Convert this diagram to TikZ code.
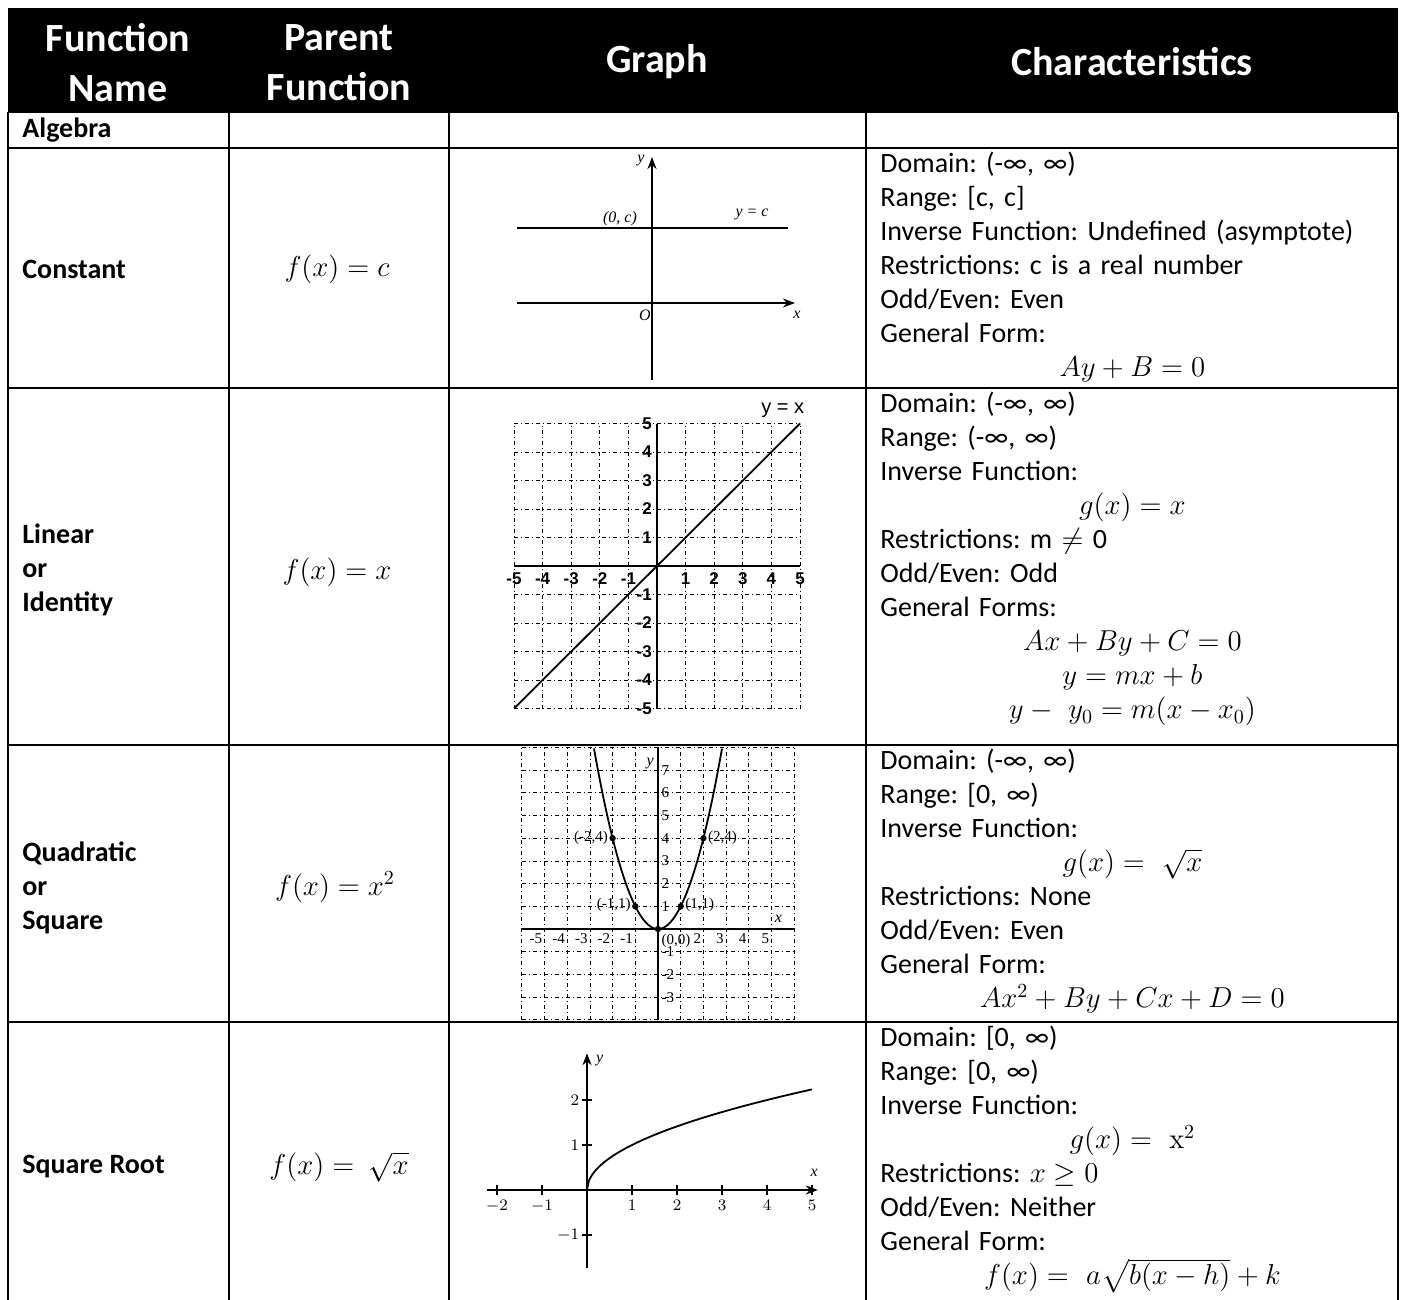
\documentclass[tikz,border=0pt]{standalone}
\usepackage{amsmath,amssymb}
\usepackage[no-math]{fontspec}
\setmainfont{Carlito}
\newfontfamily\linfont{Liberation Sans}
\newfontfamily\plotfont{Liberation Serif}
\usetikzlibrary{arrows,arrows.meta,positioning}
\newcommand{\ctrline}[1]{\makebox[\hsize][c]{$#1$}}
\frenchspacing

\begin{document}
\begin{tikzpicture}[
    x=0.5pt, y=-0.5pt,
    hdr/.style={text=white, font=\fontsize{20}{25}\selectfont\bfseries, align=center},
    rowname/.style={anchor=west, inner xsep=7pt, font=\fontsize{14}{17}\selectfont\bfseries, align=left},
    parent/.style={font=\fontsize{14}{17}\selectfont},
    chars/.style={anchor=north west, inner xsep=7pt, inner ysep=2pt, text width=252pt, font=\fontsize{14}{17}\selectfont, align=left},
    rule/.style={line width=1pt},
    axisline/.style={line width=1.2pt},
    gridline/.style={line width=0.4pt, dash pattern=on 2pt off 1.5pt on 0.5pt off 1.5pt},
    curve/.style={line width=0.9pt},
    lintick/.style={font=\linfont\bfseries\fontsize{8.5}{10}\selectfont, inner sep=1pt},
    quadtick/.style={font=\plotfont\fontsize{7.5}{9}\selectfont, inner sep=1pt},
    sqrttick/.style={font=\fontsize{8}{10}\selectfont, inner sep=1.5pt},
    axislab/.style={font=\plotfont\itshape\fontsize{8}{10}\selectfont, inner sep=1pt}
]
\useasboundingbox (0,0) rectangle (1408,1300);

% Header
\fill[black] (8,8) rectangle (1398,112);
\node[hdr] (hname)   at (118,63)  {Function\\Name};
\node[hdr] (hparent) at (339,63)  {Parent\\Function};
\node[hdr] (hgraph)  at (657,62)  {Graph};
\node[hdr] (hchar)   at (1132,62) {Characteristics};

% Table rules
\foreach \y in {112,148,388,745,1022}
    \draw[rule] (8,\y) -- (1398,\y);
\foreach \x in {8,229,449,866,1398}
    \draw[rule] (\x,112) -- (\x,1300);

% Function names
\node[rowname] (algebra)   at (8,130)  {Algebra};
\node[rowname] (constname) at (8,269)  {Constant};
\node[rowname] (linname)   at (8,570)  {Linear\\or\\Identity};
\node[rowname] (quadname)  at (8,888)  {Quadratic\\or\\Square};
\node[rowname] (sqrtname)  at (8,1167) {Square Root};

% Parent functions
\node[parent] (constfn) at (337,269)  {$f(x) = c$};
\node[parent] (linfn)   at (337,572)  {$f(x) = x$};
\node[parent] (quadfn)  at (335,887)  {$f(x) = x^2$};
\node[parent] (sqrtfn)  at (339,1167) {$f(x) = \ \sqrt{x}$};

% Characteristics
\node[chars] (constchar) at (866,148) {
Domain: (-∞, ∞)\\
Range: [c, c]\\
Inverse Function: Undefined (asymptote)\\
Restrictions: c is a real number\\
Odd/Even: Even\\
General Form:\\
\ctrline{Ay + B = 0}
};
\node[chars] (linchar) at (866,388) {
Domain: (-∞, ∞)\\
Range: (-∞, ∞)\\
Inverse Function:\\
\ctrline{g(x) = x}\\
Restrictions: m $\neq$ 0\\
Odd/Even: Odd\\
General Forms:\\
\ctrline{Ax + By + C = 0}\\
\ctrline{y = mx + b}\\
\ctrline{y -\ y_0 = m(x - x_0)}
};
\node[chars] (quadchar) at (866,745) {
Domain: (-∞, ∞)\\
Range: [0, ∞)\\
Inverse Function:\\
\ctrline{g(x) = \ \sqrt{x}}\\
Restrictions: None\\
Odd/Even: Even\\
General Form:\\
\ctrline{Ax^2 + By + Cx + D = 0}
};
\node[chars] (sqrtchar) at (866,1022) {
Domain: [0, ∞)\\
Range: [0, ∞)\\
Inverse Function:\\
\ctrline{g(x) = \ \mathrm{x}^2}\\
Restrictions: $x \geq 0$\\
Odd/Even: Neither\\
General Form:\\
\ctrline{f(x) = \ a\sqrt{b(x - h)} + k}
};

% Constant graph
\draw[axisline, -{Stealth[length=6pt]}] (652,380) -- (652,157);
\draw[axisline, -{Stealth[length=6pt]}] (517,303) -- (795,303);
\draw[axisline] (517,228) -- (788,228);
\node[axislab] (cy)    at (641,161) {y};
\node[axislab] (cx)    at (797,315) {x};
\node[axislab] (co)    at (645,315) {O};
\node[axislab] (cpt)   at (620,219) {(0, c)};
\node[axislab] (cline) at (752,214) {y = c};

% Linear graph
\begin{scope}[shift={(657,566)}, x=14.3pt, y=14.25pt]
  \foreach \g in {-5,...,5} {
    \draw[gridline] (\g,-5) -- (\g,5);
    \draw[gridline] (-5,\g) -- (5,\g);
  }
  \draw[axisline] (-5,0) -- (5,0);
  \draw[axisline] (0,-5) -- (0,5);
  \draw[curve] (-5,-5) -- (5,5);
  \foreach \n in {-5,-4,-3,-2,-1,1,2,3,4,5} {
    \node[lintick, anchor=north] (lx\n) at (\n,-0.15) {\n};
    \node[lintick, anchor=east]  (ly\n) at (-0.1,\n) {\n};
  }
  \node[lintick, font=\linfont\fontsize{10}{12}\selectfont] (lname) at (4.4,5.45) {y = x};
\end{scope}

% Quadratic graph
\begin{scope}[shift={(658,929)}, x=11.35pt, y=11.35pt]
  \foreach \g in {-6,...,6}
    \draw[gridline] (\g,-4) -- (\g,8);
  \foreach \g in {-4,...,8}
    \draw[gridline] (-6,\g) -- (6,\g);
  \draw[axisline] (-6,0) -- (6,0);
  \draw[axisline] (0,-4) -- (0,8);
  \draw[curve, domain=-2.82:2.82, samples=80, smooth] plot (\x, {\x*\x});
  \foreach \p/\q in {-2/4,-1/1,0/0,1/1,2/4}
    \fill (\p,\q) circle[radius=1.6pt];
  \node[quadtick, anchor=east] (qa) at (-2.1,4) {(-2,4)};
  \node[quadtick, anchor=west] (qb) at (2.1,4) {(2,4)};
  \node[quadtick, anchor=east] (qc) at (-1.1,1.05) {(-1,1)};
  \node[quadtick, anchor=west] (qd) at (1.1,1.05) {(1,1)};
  \node[quadtick, anchor=north west] (qe) at (0.05,-0.1) {(0,0)};
  \foreach \n in {-5,-4,-3,-2,-1,2,3,4,5}
    \node[quadtick, anchor=north east] (qx\n) at (\n,-0.1) {\n};
  \foreach \n in {1,2,3,4,5,6,7,-1,-2,-3}
    \node[quadtick, anchor=west] (qy\n) at (0.05,\n) {\n};
  \node[axislab] (qyl) at (-0.35,7.3) {y};
  \node[axislab] (qxl) at (5.3,0.45) {x};
\end{scope}

% Square root graph
\begin{scope}[shift={(587,1190)}, x=22.5pt, y=22.5pt]
  \draw[axisline, -{Stealth[length=6pt]}] (-2.22,0) -- (5.13,0);
  \draw[axisline, -{Stealth[length=6pt]}] (0,-1.73) -- (0,3.04);
  \foreach \t in {-2,-1,1,2,3,4,5} {
    \draw[axisline] (\t,-0.12) -- (\t,0.12);
    \node[sqrttick, anchor=north] (sx\t) at (\t,-0.15) {$\t$};
  }
  \foreach \t in {-1,1,2} {
    \draw[axisline] (-0.12,\t) -- (0.12,\t);
    \node[sqrttick, anchor=east] (sy\t) at (-0.1,\t) {$\t$};
  }
  \draw[curve, domain=0:5, samples=120] plot (\x, {sqrt(\x)});
  \node[axislab] (sxl) at (5.05,0.38) {x};
  \node[axislab] (syl) at (0.28,2.88) {y};
\end{scope}
\end{tikzpicture}
\end{document}
